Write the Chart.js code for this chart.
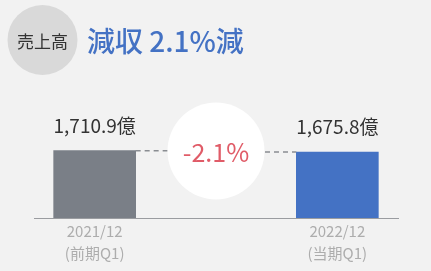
<!DOCTYPE html>
<html>
<head>
<meta charset="utf-8">
<script src="https://cdn.jsdelivr.net/npm/chart.js@4.4.0/dist/chart.umd.min.js"></script>
<style>
  html, body { margin: 0; padding: 0; background: #f2f2f2; }
  #wrap { width: 431px; height: 271px; }
</style>
</head>
<body>
<div id="wrap"><canvas id="salesChart"></canvas></div>
<script>
const periods = ['2021/12', '2022/12'];
const periodNotes = ['(前期Q1)', '(当期Q1)'];
const sales = [1710.9, 1675.8];
const badgeText = '売上高';
const headline = '減収 2.1%減';
const barColors = ['#7a7f87', '#4472c4'];

const FONT = "'Noto Sans CJK JP', 'Noto Sans', sans-serif";
const change = (sales[1] / sales[0] - 1) * 100;
const changeText = (change < 0 ? '-' : '+') + Math.abs(change).toFixed(1) + '%';

// middle slot left empty for the change bubble
const labels = [[periods[0], periodNotes[0]], '', [periods[1], periodNotes[1]]];
const values = [sales[0], null, sales[1]];

const fmt = v => v.toLocaleString('en-US', { minimumFractionDigits: 1, maximumFractionDigits: 1 }) + '億';

const decor = {
    id: 'decor',
    beforeDraw(chart) {
        const ctx = chart.ctx;
        ctx.save();
        ctx.fillStyle = '#f2f2f2';
        ctx.fillRect(0, 0, chart.width, chart.height);

        // header badge
        ctx.fillStyle = '#d9d9d9';
        ctx.beginPath();
        ctx.arc(42.5, 40, 35, 0, Math.PI * 2);
        ctx.fill();
        ctx.fillStyle = '#333';
        ctx.font = '17px ' + FONT;
        ctx.textAlign = 'center';
        ctx.textBaseline = 'middle';
        ctx.fillText(badgeText, 42.5, 42);

        ctx.fillStyle = '#4472c4';
        ctx.font = '500 28px ' + FONT;
        ctx.textAlign = 'left';
        ctx.fillText(headline, 87, 41);
        ctx.restore();
    },
    afterDatasetsDraw(chart) {
        const ctx = chart.ctx;
        const meta = chart.getDatasetMeta(0);
        const x = chart.scales.x;
        const b0 = meta.data[0], b2 = meta.data[2];
        const cx = x.getPixelForValue(1);
        const cy = 151;
        ctx.save();

        // dashed connectors
        ctx.strokeStyle = '#8a8d92';
        ctx.lineWidth = 1.5;
        ctx.setLineDash([5, 4]);
        ctx.beginPath();
        ctx.moveTo(b0.x + b0.width / 2, b0.y);
        ctx.lineTo(cx - 40, b0.y);
        ctx.moveTo(cx + 40, b2.y);
        ctx.lineTo(b2.x - b2.width / 2, b2.y);
        ctx.stroke();
        ctx.setLineDash([]);

        // change bubble
        ctx.fillStyle = '#ffffff';
        ctx.beginPath();
        ctx.arc(cx, cy, 48.5, 0, Math.PI * 2);
        ctx.fill();
        ctx.fillStyle = '#e05c68';
        ctx.font = '25px ' + FONT;
        ctx.textAlign = 'center';
        ctx.textBaseline = 'middle';
        ctx.fillText(changeText, cx, cy + 1);

        // value labels
        ctx.fillStyle = '#333';
        ctx.font = '19px ' + FONT;
        [b0, b2].forEach((bar, i) => {
            ctx.fillText(fmt(sales[i]), bar.x, bar.y - 25);
        });
        ctx.restore();
    }
};

new Chart(document.getElementById('salesChart'), {
    type: 'bar',
    data: {
        labels: labels,
        datasets: [{
            data: values,
            backgroundColor: [barColors[0], 'transparent', barColors[1]],
            barThickness: 82
        }]
    },
    options: {
        responsive: true,
        maintainAspectRatio: false,
        devicePixelRatio: 1,
        animation: false,
        layout: {
            padding: { left: 34, right: 33, top: 100, bottom: 4 }
        },
        plugins: {
            legend: { display: false },
            tooltip: { enabled: false }
        },
        scales: {
            x: {
                grid: { display: false, drawTicks: false },
                border: { display: true, color: '#9a9ca0', width: 1 },
                ticks: {
                    color: '#adadad',
                    padding: 2,
                    font: { family: FONT, size: 15, lineHeight: 1.5 }
                }
            },
            y: {
                display: false,
                min: 0,
                max: 3000
            }
        }
    },
    plugins: [decor]
});
</script>
</body>
</html>
